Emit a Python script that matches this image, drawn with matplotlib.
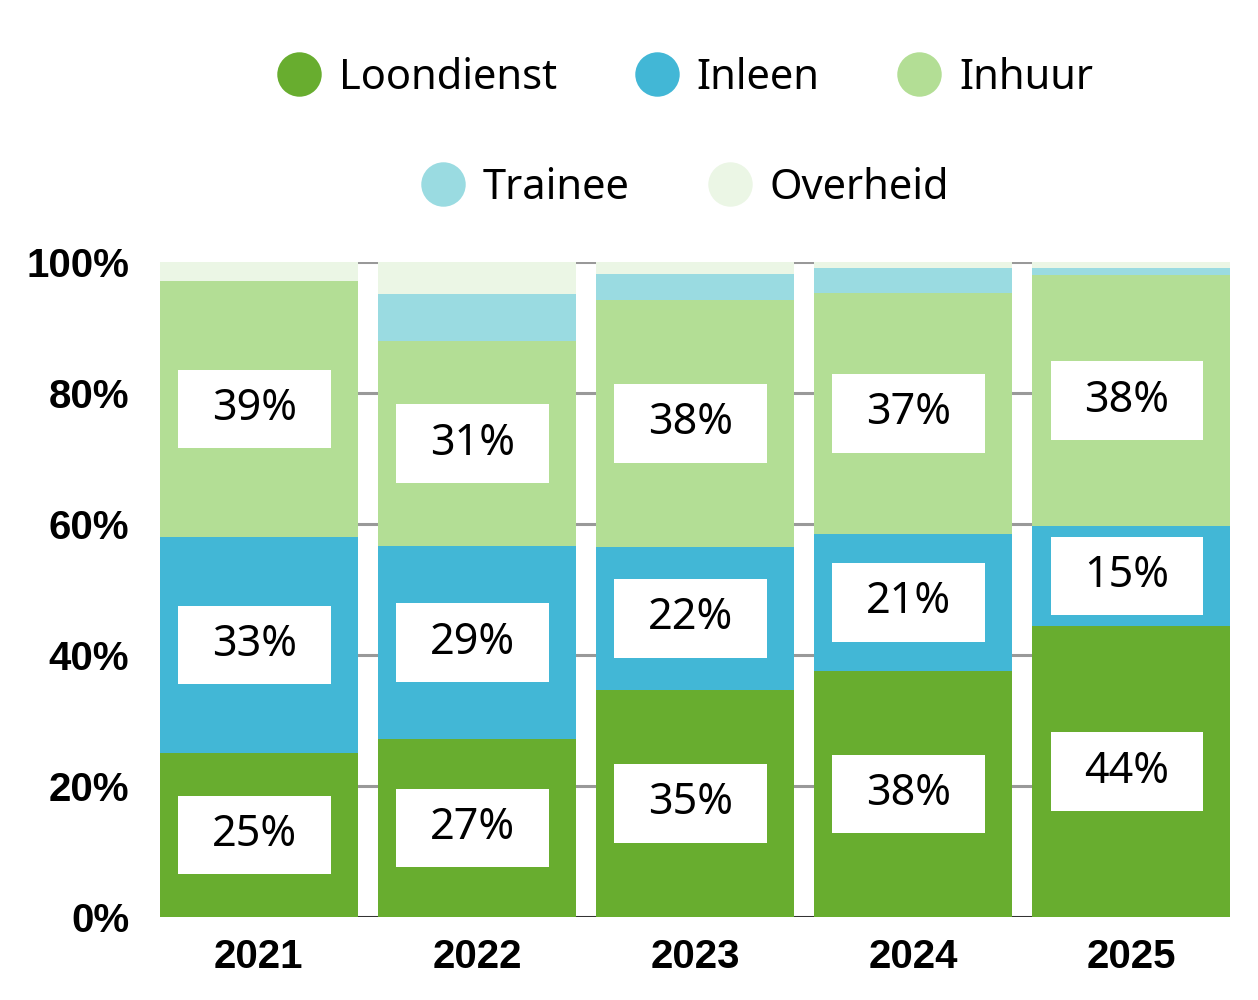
import matplotlib
matplotlib.use("Agg")
import matplotlib.pyplot as plt
from matplotlib.lines import Line2D
from matplotlib.patches import Rectangle

plt.rcParams['font.family'] = ['Noto Sans', 'DejaVu Sans']

years = ['2021', '2022', '2023', '2024', '2025']
series = ['Loondienst', 'Inleen', 'Inhuur', 'Trainee', 'Overheid']
colors = ['#68ad2f', '#42b7d6', '#b3de95', '#9adbe1', '#ebf6e5']

loondienst = [25.0, 27.2, 34.7, 37.6, 44.4]
inleen = [33.0, 29.4, 21.8, 20.9, 15.3]
inhuur = [39.1, 31.3, 37.7, 36.8, 38.3]
trainee = [0.0, 7.2, 4.0, 3.8, 1.1]
overheid = [2.9, 4.9, 1.8, 0.9, 0.9]
labelled = ['Loondienst', 'Inleen', 'Inhuur']

data = [loondienst, inleen, inhuur, trainee, overheid]
tickfont = ['Liberation Sans', 'DejaVu Sans']

fig = plt.figure(figsize=(12.58, 10), dpi=100)
ax = fig.add_axes([0.127, 0.083, 0.851, 0.655])

x = list(range(len(years)))
w = 0.908
bottom = [0.0] * len(years)
for name, vals, col in zip(series, data, colors):
    ax.bar(x, vals, w, bottom=bottom, color=col, zorder=2)
    if name in labelled:
        for i, v in enumerate(vals):
            yc = bottom[i] + v / 2
            ax.add_patch(Rectangle((i - 0.37, yc - 6), 0.70, 12, facecolor='white',
                                   edgecolor='none', zorder=3))
            ax.text(i - 0.02, yc, '%d%%' % round(v), ha='center', va='center',
                    fontsize=31, zorder=4)
    bottom = [b + v for b, v in zip(bottom, vals)]

for yv in [20, 40, 60, 80, 100]:
    ax.axhline(yv, color='#999999', lw=2.2, zorder=1)
ax.axhline(0, color='#333333', lw=2.2, zorder=1)

ax.set_xlim(-w / 2, len(years) - 1 + w / 2)
ax.set_ylim(0, 100)
ax.set_yticks([0, 20, 40, 60, 80, 100])
ax.set_yticklabels(['%d%%' % t for t in [0, 20, 40, 60, 80, 100]], fontsize=29,
                   fontweight='bold', family=tickfont)
ax.set_xticks(x)
ax.set_xticklabels(years, fontsize=29, fontweight='bold', family=tickfont)
ax.tick_params(axis='y', length=0, pad=22)
ax.tick_params(axis='x', length=0, pad=15)
for s in ax.spines.values():
    s.set_visible(False)

def handle(c):
    return Line2D([], [], ls='none', marker='o', markersize=32, markerfacecolor=c,
                  markeredgecolor='none')

h1 = [handle(c) for c in colors[:3]]
h2 = [handle(c) for c in colors[3:]]
fig.legend(h1, series[:3], loc='center', bbox_to_anchor=(0.545, 0.922), ncol=3,
           frameon=False, fontsize=30, handlelength=1.0, handletextpad=0.45,
           columnspacing=1.9)
fig.legend(h2, series[3:], loc='center', bbox_to_anchor=(0.545, 0.812), ncol=2,
           frameon=False, fontsize=30, handlelength=1.0, handletextpad=0.45,
           columnspacing=1.9)

fig.savefig('out.png', dpi=100)
